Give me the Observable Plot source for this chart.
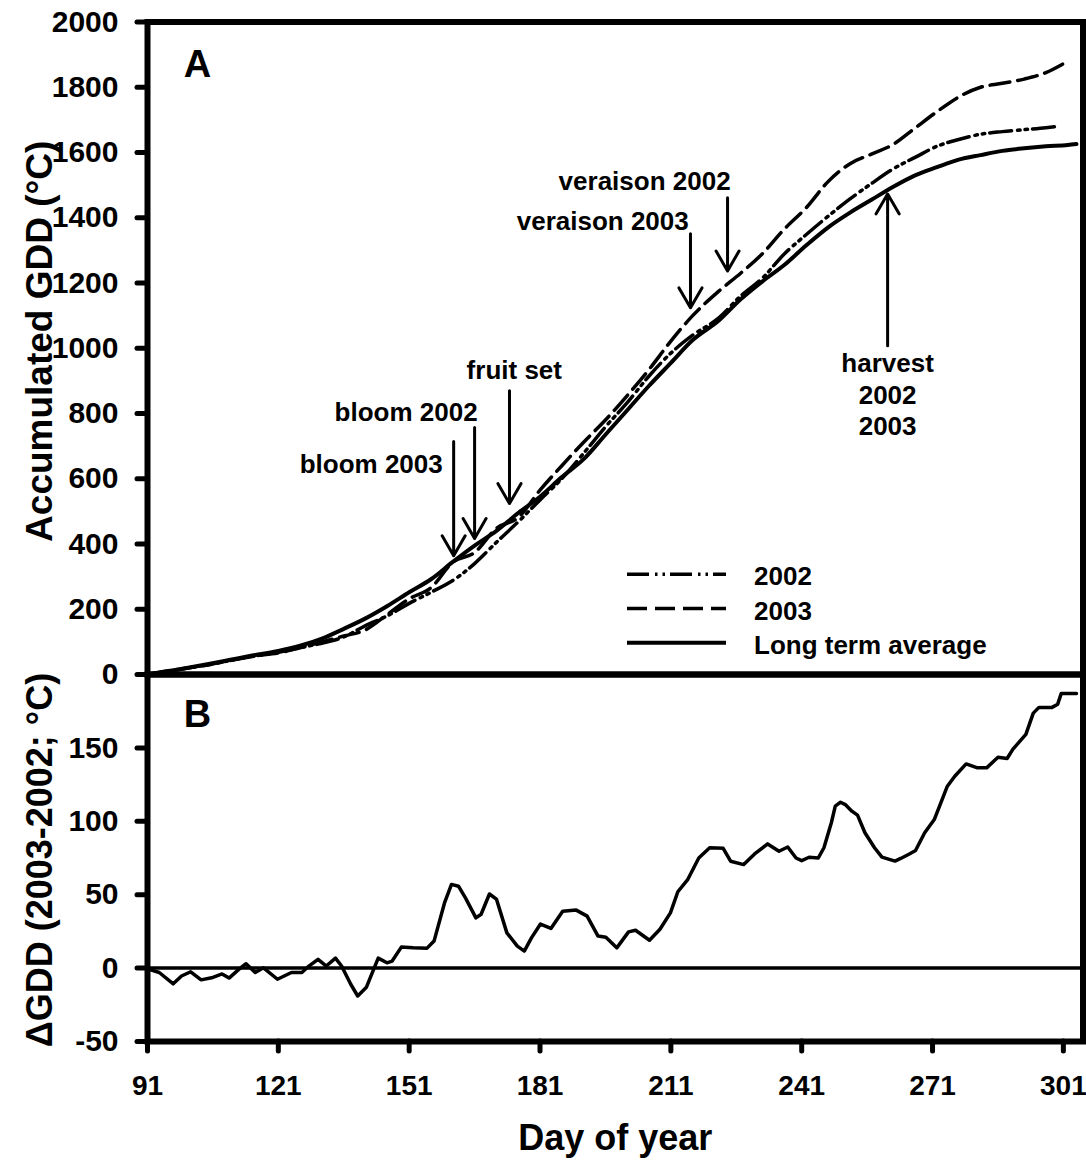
<!DOCTYPE html>
<html><head><meta charset="utf-8">
<script src="https://cdn.jsdelivr.net/npm/d3@7"></script>
<script src="https://cdn.jsdelivr.net/npm/@observablehq/plot@0.6"></script>
<style>
body{margin:0;background:#fff;}
#wrap{position:relative;width:1086px;height:1169px;overflow:hidden;}
#panelA,#panelB{position:absolute;left:0;}
#panelA{top:0;} #panelB{top:660px;}
</style></head><body>
<div id="wrap"><div id="panelA"></div><div id="panelB"></div></div>
<script>
// ---- data ----
const days = [91,95,100,105,110,115,121,126,131,136,141,146,151,156,161,166,171,176,181,186,191,196,201,206,211,216,222,227,232,237,242,247,252,257,262,267,272,277,282,287,292,297];
const gddLTA = [0,9,20,32,45,58,72,88,110,140,172,210,252,292,345,395,440,495,545,605,660,735,810,885,955,1025,1085,1150,1205,1255,1315,1370,1415,1455,1495,1530,1555,1578,1592,1605,1613,1619];
const ltaEndDays = [302,304];
const ltaEndGdd = [1623,1626];
const gdd2002 = [0,9,20,30,43,55,68,82,96,115,150,180,218,252,288,340,405,468,535,600,678,759,833,915,985,1040,1093,1160,1215,1289,1348,1404,1457,1505,1550,1585,1619,1640,1656,1664,1670,1676];
const end2002Days = [299];
const end2002Gdd = [1679];
const gdd2003 = [0,8,19,30,43,56,66,82,100,118,137,184,232,266,344,374,448,481,565,640,712,780,855,935,1022,1100,1175,1230,1290,1365,1430,1510,1565,1595,1625,1675,1725,1770,1800,1812,1825,1845];
const end2003Days = [301];
const end2003Gdd = [1872];

const deltaDays = [91,93.7,96.9,98.8,100.9,103.3,105.7,108.1,109.7,112,113.6,115.7,117.6,120.8,124,126.4,128,130.1,132,134.1,135.5,137.6,139.2,141.2,143.9,145.9,147.1,149.2,151.9,155.1,156.7,159.1,160.7,162.3,163.9,166.3,167.5,169.4,171,173.4,175.8,177.4,179,181.1,183.5,186.2,189.3,191.8,194.3,196.1,198.6,201.3,202.9,206.1,208.5,210.9,212.6,214.9,217.4,219.9,223,224.7,227.7,230.2,233.2,235.8,237.8,239.7,241,242.7,244.8,246.1,247.8,248.7,249.9,251,252.5,253.8,255.5,257.7,259.4,262.4,263.7,265.8,267.1,269.2,271.4,274.4,276.1,278.7,281.3,283.4,286,288.1,289.4,292.4,294.1,295.4,298.4,299.7,300.5,304];
const deltaGdd = [-0.5,-3,-10.7,-5.4,-2.5,-8,-6.6,-4,-6.8,-0.7,3,-3,0.2,-7.6,-3,-3,1.4,6,1.4,6.8,1.4,-11,-19,-13,6.8,3.6,4.8,14.3,13.8,13.6,18.4,44.4,57,55.8,47.8,34.2,36.7,50.5,47,24,15,11.6,20.4,30,27,38.8,39.5,35.4,21.8,21,13.8,24.7,25.8,19,26.5,37.6,52,60.5,75,82,81.6,72.8,70.5,77.8,84.6,79.6,82.5,75,73.2,75.5,75,82,99,110.3,113,111.4,106.9,104.2,92.2,82,75.6,72.9,74.7,77.9,80.1,92.2,101.2,123.9,130.7,139.1,136.4,136.4,143.6,142.8,149,159.2,173.7,177.6,177.6,179.8,187,187];

const yTicksA = [0,200,400,600,800,1000,1200,1400,1600,1800,2000];
const yTicksB = [-50,0,50,100,150];
const xTicks = [91,121,151,181,211,241,271,301];

const arrows = [
  {name:"bloom 2003", day:161.2, from:714, to:364},
  {name:"bloom 2002", day:166, from:757, to:417},
  {name:"fruit set", day:174, from:870, to:524},
  {name:"veraison 2003", day:215.5, from:1351, to:1124},
  {name:"veraison 2002", day:224, from:1461, to:1237},
  {name:"harvest", day:260.7, from:1008, to:1473}
];
const labelsEnd = [
  {text:"bloom 2003", day:158.7, gdd:643},
  {text:"bloom 2002", day:166.7, gdd:802},
  {text:"veraison 2003", day:215.1, gdd:1387},
  {text:"veraison 2002", day:224.7, gdd:1510}
];
const labelsMid = [
  {text:"fruit set", day:175.1, gdd:937},
  {text:"harvest\n2002\n2003", day:260.7, gdd:861}
];

const dash2002 = "22,6,2.5,5,2.5,5";
const dash2003 = "20,8";
const legendItems = [
  {label:"2002", dash:dash2002},
  {label:"2003", dash:dash2003},
  {label:"Long term average", dash:null}
];

// ---- build tables ----
const s2002 = days.map((d,i)=>({day:d, gdd:gdd2002[i]})).concat(end2002Days.map((d,i)=>({day:d, gdd:end2002Gdd[i]})));
const s2003 = days.map((d,i)=>({day:d, gdd:gdd2003[i]})).concat(end2003Days.map((d,i)=>({day:d, gdd:end2003Gdd[i]})));
const sLTA = days.map((d,i)=>({day:d, gdd:gddLTA[i]})).concat(ltaEndDays.map((d,i)=>({day:d, gdd:ltaEndGdd[i]})));
const delta = deltaDays.map((d,i)=>({day:d, v:deltaGdd[i]}));

const FONT = '"Liberation Sans", Arial, Helvetica, sans-serif';
const common = {
  width: 1086,
  marginLeft: 147,
  marginRight: 3.5,
  style: {fontFamily: FONT, fontWeight: "bold", fontSize: "28px", color: "black", background: "none", overflow: "visible"}
};
const axisOpts = {tickSize: 10, strokeWidth: 5, strokeLinecap: "round", tickFormat: d => String(d), label: null};

const plotA = Plot.plot({
  ...common,
  height: 680,
  marginTop: 21.5,
  marginBottom: 6,
  x: {domain: [91, 305.5], axis: null},
  y: {domain: [0, 2000], axis: null},
  marks: [
    Plot.line(s2002, {x:"day", y:"gdd", curve:"monotone-x", strokeWidth:3.5, strokeDasharray:dash2002}),
    Plot.line(s2003, {x:"day", y:"gdd", curve:"monotone-x", strokeWidth:3.5, strokeDasharray:dash2003}),
    Plot.line(sLTA, {x:"day", y:"gdd", curve:"monotone-x", strokeWidth:4}),
    Plot.arrow(arrows, {x1:"day", x2:"day", y1:"from", y2:"to", strokeWidth:3, headLength:11.5, headAngle:60, stroke:"black"}),
    Plot.text(labelsEnd, {x:"day", y:"gdd", text:"text", textAnchor:"end", fontSize:26, lineAnchor:"middle"}),
    Plot.text(labelsMid, {x:"day", y:"gdd", text:"text", textAnchor:"middle", fontSize:26, lineAnchor:"middle", lineHeight:1.2}),
    Plot.text(["A"], {frameAnchor:"top-left", dx:50, dy:42.5, fontSize:38, textAnchor:"middle", lineAnchor:"middle"}),
    Plot.text(["Accumulated GDD (°C)"], {frameAnchor:"left", dx:-107, dy:-7, rotate:-90, fontSize:37, textAnchor:"middle", lineAnchor:"middle"}),
    Plot.axisY({...axisOpts, fontSize: 30, ticks: yTicksA, tickPadding: 19}),
    Plot.frame({strokeWidth: 6})
  ]
});
document.getElementById("panelA").appendChild(plotA);

// legend (inside panel A)
const lg = d3.select(plotA).append("g")
  .attr("font-family", FONT).attr("font-weight", "bold").attr("font-size", 26).attr("text-anchor", "start");
legendItems.forEach((it, i) => {
  const y = 574.3 + i * 34.2;
  lg.append("line").attr("x1", 627).attr("x2", 726).attr("y1", y).attr("y2", y)
    .attr("stroke", "black").attr("stroke-width", i === 2 ? 4 : 3.5)
    .attr("stroke-dasharray", it.dash);
  lg.append("text").attr("x", 754).attr("y", y + 2).attr("dominant-baseline", "central")
    .attr("text-anchor", "start").attr("fill", "black").text(it.label);
});

const plotB = Plot.plot({
  ...common,
  height: 509,
  marginTop: 14,
  marginBottom: 128,
  x: {domain: [91, 305.5], axis: null},
  y: {domain: [-50, 200], axis: null},
  marks: [
    Plot.ruleY([0], {strokeWidth: 3.5}),
    Plot.line(delta, {x:"day", y:"v", strokeWidth:3.5, strokeLinejoin:"round", clip:true}),
    Plot.text(["B"], {frameAnchor:"top-left", dx:50, dy:40, fontSize:38, textAnchor:"middle", lineAnchor:"middle"}),
    Plot.text(["ΔGDD (2003-2002; °C)"], {frameAnchor:"left", dx:-107, dy:2, rotate:-90, fontSize:36, textAnchor:"middle", lineAnchor:"middle"}),
    Plot.text(["Day of year"], {frameAnchor:"bottom", dy:97, fontSize:36, textAnchor:"middle", lineAnchor:"middle"}),
    Plot.axisY({...axisOpts, fontSize: 30, ticks: yTicksB, tickPadding: 19}),
    Plot.axisX({...axisOpts, fontSize: 28, ticks: xTicks, tickPadding: 24}),
    Plot.frame({strokeWidth: 6})
  ]
});
document.getElementById("panelB").appendChild(plotB);
</script>
</body></html>
